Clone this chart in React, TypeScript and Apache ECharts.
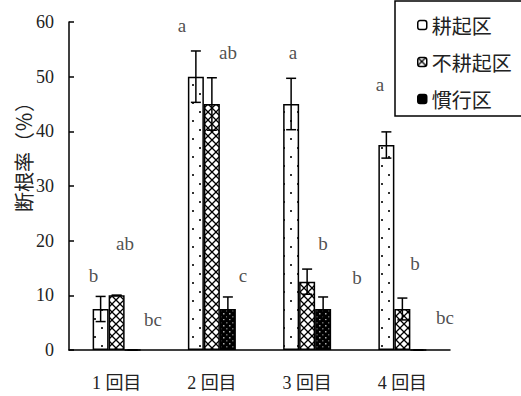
import React, { useEffect, useRef } from "react";
import * as echarts from "echarts";

const categories = ["1 回目", "2 回目", "3 回目", "4 回目"];
const seriesNames = ["耕起区", "不耕起区", "慣行区"];
const koukiValues = [7.5, 50, 45, 37.5];
const fukoukiValues = [10, 45, 12.5, 7.5];
const kankoValues = [0, 7.5, 7.5, 0];
const koukiErr = [2.3, 4.7, 4.7, 2.4];
const fukoukiErr = [0, 4.8, 2.3, 2.0];
const kankoErr = [0, 2.2, 2.2, 0];
const letterText = ["b", "ab", "bc", "a", "ab", "c", "a", "b", "b", "a", "b", "bc"];
const letterX = [0.257, 0.588, 0.882, 1.186, 1.669, 1.827, 2.352, 2.667, 3.024, 3.265, 3.633, 3.948];
const letterY = [13.7, 19.4, 5.6, 59.4, 54.5, 13.7, 54.5, 19.4, 13.2, 48.5, 15.9, 5.9];
const yMin = 0;
const yMax = 60;
const yInterval = 10;
const yName = "断根率（％）";

const BAR_W = 16;
const SERIF = "'Liberation Serif', 'Noto Sans CJK JP', serif";
const CJK = "'Noto Sans CJK JP', sans-serif";

function makeTile(w: number, h: number, draw: (c: CanvasRenderingContext2D) => void) {
  const cv = document.createElement("canvas");
  cv.width = w;
  cv.height = h;
  const ctx = cv.getContext("2d")!;
  draw(ctx);
  return { image: cv, repeat: "repeat", imageWidth: w, imageHeight: h } as any;
}

export default function App() {
  const ref = useRef<HTMLDivElement>(null);
  useEffect(() => {
    if (!ref.current) return;
    const chart = echarts.init(ref.current, null, { renderer: "svg" });

    const dotPattern = makeTile(14, 18, (c) => {
      c.fillStyle = "#fff";
      c.fillRect(0, 0, 14, 18);
      c.fillStyle = "#333";
      c.fillRect(3, 3, 2, 2);
      c.fillRect(10, 12, 2, 2);
    });
    const latticePattern = makeTile(8, 8, (c) => {
      c.fillStyle = "#fff";
      c.fillRect(0, 0, 8, 8);
      c.strokeStyle = "#000";
      c.lineWidth = 1.3;
      c.beginPath();
      c.moveTo(0, 0);
      c.lineTo(8, 8);
      c.moveTo(8, 0);
      c.lineTo(0, 8);
      c.stroke();
      c.fillStyle = "#000";
      c.fillRect(3, 3, 2, 2);
      c.fillRect(0, 0, 1, 1);
      c.fillRect(7, 0, 1, 1);
      c.fillRect(0, 7, 1, 1);
      c.fillRect(7, 7, 1, 1);
    });
    const darkPattern = makeTile(6, 6, (c) => {
      c.fillStyle = "#000";
      c.fillRect(0, 0, 6, 6);
      c.fillStyle = "#aaa";
      c.fillRect(1, 1, 1.5, 1.5);
      c.fillStyle = "#666";
      c.fillRect(4, 4, 1.5, 1.5);
    });
    const patterns = [dotPattern, latticePattern, darkPattern];
    const values = [koukiValues, fukoukiValues, kankoValues];
    const errs = [koukiErr, fukoukiErr, kankoErr];

    const errData: number[][] = [];
    values.forEach((vals, s) => {
      vals.forEach((v, i) => errData.push([i, v, errs[s][i], s]));
    });

    const barSeries = seriesNames.map((name, s) => ({
      name,
      type: "bar",
      data: values[s],
      barWidth: BAR_W,
      barGap: "0%",
      itemStyle: { color: patterns[s], borderColor: "#000", borderWidth: 1.5 },
      emphasis: { disabled: true },
    }));

    chart.setOption({
      animation: false,
      grid: { left: 69, top: 22, width: 381, height: 328, containLabel: false },
      legend: {
        orient: "vertical",
        left: 395,
        top: 1,
        itemWidth: 9,
        itemHeight: 9,
        itemGap: 17,
        padding: [14, 12, 7, 22],
        borderColor: "#000",
        borderWidth: 1.5,
        selectedMode: false,
        textStyle: { fontSize: 20, fontFamily: CJK, color: "#222" },
        data: [
          { name: seriesNames[0], itemStyle: { color: "#fff", borderColor: "#000", borderWidth: 1.5 } },
          { name: seriesNames[1], itemStyle: { color: latticePattern, borderColor: "#000", borderWidth: 1.5 } },
          { name: seriesNames[2], itemStyle: { color: "#000", borderColor: "#000", borderWidth: 1.5 } },
        ],
      },
      xAxis: [
        {
          type: "category",
          data: categories,
          axisLine: { lineStyle: { color: "#000", width: 1.5 } },
          axisTick: { show: false },
          axisLabel: { fontSize: 18, fontFamily: SERIF, color: "#222", margin: 24 },
        },
        { type: "value", min: 0, max: 4, show: false },
      ],
      yAxis: {
        type: "value",
        min: yMin,
        max: yMax,
        interval: yInterval,
        axisLine: { show: true, lineStyle: { color: "#000", width: 1.5 } },
        axisTick: { show: true, inside: true, length: 5, lineStyle: { color: "#000", width: 1.5 } },
        splitLine: { show: false },
        axisLabel: { fontSize: 18, fontFamily: SERIF, color: "#222", margin: 15 },
      },
      graphic: [
        {
          type: "text",
          x: 23,
          y: 152,
          rotation: Math.PI / 2,
          style: {
            text: yName,
            fontSize: 20,
            fontFamily: CJK,
            fill: "#222",
            align: "center",
            verticalAlign: "middle",
          },
        },
      ],
      series: [
        ...barSeries,
        {
          type: "custom",
          name: "err",
          data: errData,
          z: 5,
          renderItem: (params: any, api: any) => {
            const cat = api.value(0);
            const v = api.value(1);
            const e = api.value(2);
            const s = api.value(3);
            const x = api.coord([cat, v])[0] + (s - 1) * BAR_W;
            const yt = api.coord([cat, v + e])[1];
            const yb = api.coord([cat, Math.max(v - e, 0)])[1];
            const st = { stroke: "#000", lineWidth: 1.5 };
            return {
              type: "group",
              children: [
                { type: "line", shape: { x1: x, y1: yt, x2: x, y2: yb }, style: st },
                { type: "line", shape: { x1: x - 5, y1: yt, x2: x + 5, y2: yt }, style: st },
                { type: "line", shape: { x1: x - 5, y1: yb, x2: x + 5, y2: yb }, style: st },
              ],
            };
          },
        },
        {
          type: "scatter",
          name: "letters",
          xAxisIndex: 1,
          symbolSize: 0,
          itemStyle: { color: "#222" },
          data: letterX.map((x, i) => [x, letterY[i]]),
          label: {
            show: true,
            position: "inside",
            formatter: (p: any) => letterText[p.dataIndex],
            fontSize: 19,
            fontFamily: SERIF,
            color: "#222",
            textBorderWidth: 0,
            textBorderColor: "transparent",
          },
          emphasis: { disabled: true },
        },
      ],
    });
    return () => chart.dispose();
  }, []);
  return (
    <div
      ref={ref}
      style={{ position: "absolute", left: 0, top: 0, width: 521, height: 396, background: "#fff" }}
    />
  );
}
